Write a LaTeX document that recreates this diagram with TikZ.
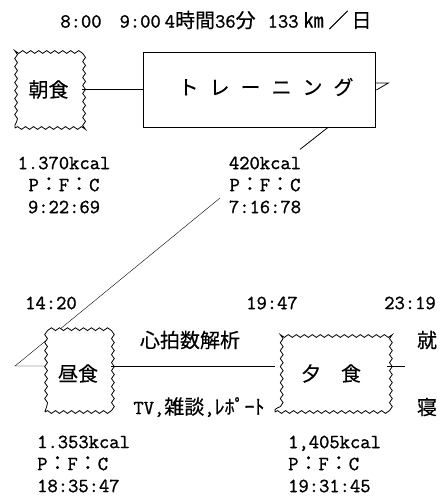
\documentclass[tikz,border=0pt]{standalone}
\usepackage{fontspec}
\setmainfont{Latin Modern Mono}[FakeBold=1.2]
\newfontfamily\jpf{Noto Sans CJK JP}[FakeBold=0.4]
\usetikzlibrary{decorations.pathmorphing,calc}
\pgfdeclarelayer{bg}
\pgfsetlayers{bg,main}
\begin{document}
\begin{tikzpicture}[x=1pt,y=-1pt,line width=0.8pt,
  txt/.style={inner sep=0pt,font=\fontsize{20}{22}\selectfont},
  jtxt/.style={inner sep=0pt,font=\fontsize{20}{22}\selectfont\jpf},
  wavy/.style={draw,fill=white,decorate,decoration={snake,amplitude=1.4pt,segment length=8pt},inner sep=0pt,font=\fontsize{20}{22}\selectfont\jpf},
  plainbox/.style={draw,inner sep=0pt}]
\useasboundingbox (0,0) rectangle (445,498);

\node[txt,anchor=west] (head) at (60,20) {8:00\hspace{18pt}9:00\hspace{4pt}4{\jpf 時間}36{\jpf 分}\hspace{12pt}133\hspace{5pt}{\jpf ㎞}\hspace{5pt}{\jpf ／}\hspace{3pt}{\jpf 日}};

\node[wavy,minimum width=67pt,minimum height=77pt] (chou) at (48.5,89.5) {朝食};
\node[plainbox,minimum width=232pt,minimum height=75pt] (train) at (259,89.5) {};
\node[jtxt] (traint) at (266,87) {ト\hspace{11pt}レ\hspace{11pt}ー\hspace{11pt}ニ\hspace{11pt}ン\hspace{11pt}グ};
\draw (chou.east) -- (train.west);
\draw ($(train.east)+(0,-6.5)$) -- ++(13,0) -- ++(-12,7);

\node[txt,align=center] (k1) at (64,185) {1.370kcal\\P{\jpf ：}F{\jpf ：}C\\9:22:69};
\node[txt,align=center] (k2) at (265,185) {420kcal\\P{\jpf ：}F{\jpf ：}C\\7:16:78};
\draw ($(train.south)+(69,0)$) coordinate (d1) -- ++(-28,22) coordinate (d2);

\node[txt] (t1) at (51,303) {14:20};
\node[txt] (t2) at (272,303) {19:47};
\node[txt] (t3) at (410,303) {23:19};
\node[jtxt] (hr) at (190,340) {心拍数解析};
\node[jtxt] (shu) at (427,340) {就};
\node[jtxt] (shin) at (427,407) {寝};

\node[wavy,minimum width=66pt,minimum height=77pt] (hiru) at (78,373.5) {昼食};
\node[wavy,minimum width=112pt,minimum height=77pt] (yuu) at (331,373.5) {夕\hspace{20pt}食};

\coordinate (d3) at (220,198);
\coordinate (dl) at (15,366);
\coordinate (sl) at (405,366);
\begin{pgfonlayer}{bg}
\draw (d3) -- (dl) -- (dl -| hiru.west);
\end{pgfonlayer}
\draw (hiru.east |- dl) -- (yuu.west |- dl);
\draw (yuu.east |- sl) -- (sl);

\node[txt] (tv) at (199,407) {TV,{\jpf 雑談},{\jpf ﾚﾎﾟｰﾄ}};
\node[txt,align=left,anchor=west] (k3) at (37,464) {1.353kcal\\P{\jpf ：}F{\jpf ：}C\\18:35:47};
\node[txt,align=left,anchor=west] (k4) at (288,464) {1,405kcal\\P{\jpf ：}F{\jpf ：}C\\19:31:45};
\end{tikzpicture}
\end{document}
